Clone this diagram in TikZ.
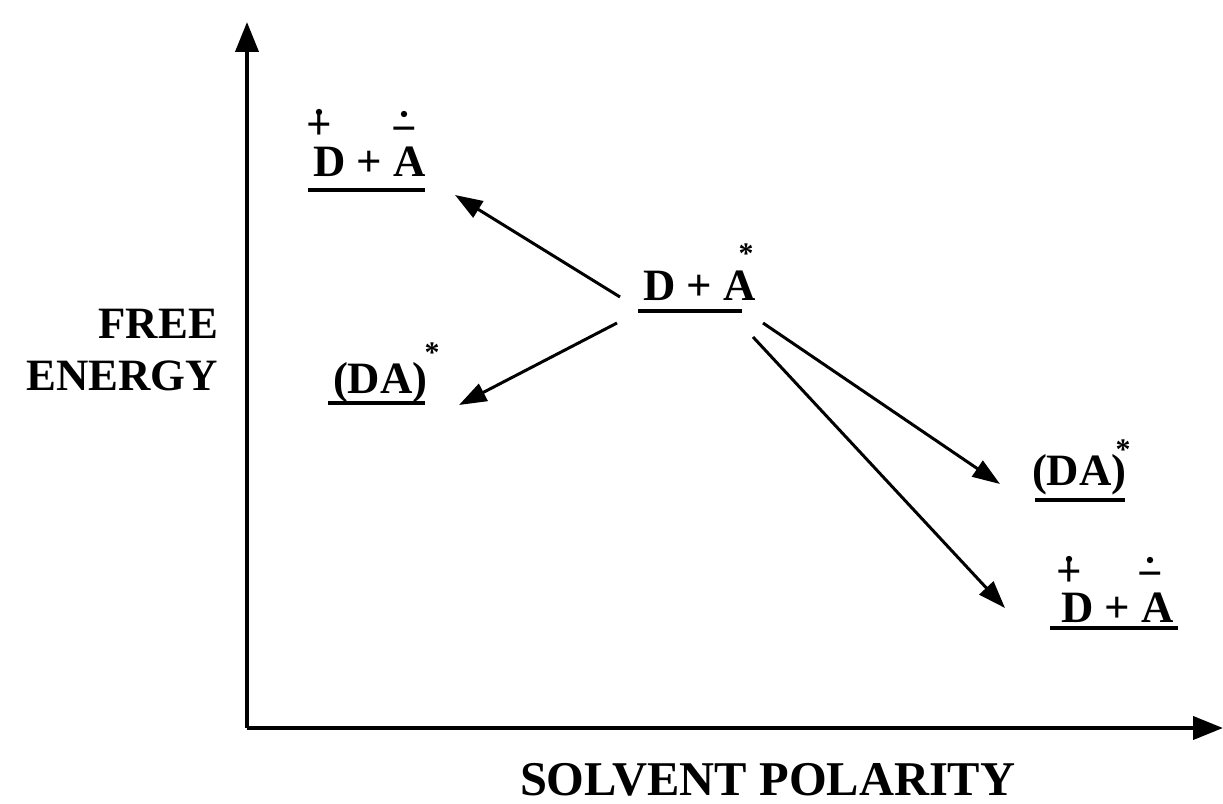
\documentclass[tikz,border=0pt]{standalone}
\usepackage{fontspec}
\setmainfont{Liberation Serif}
\usetikzlibrary{arrows.meta}
\tikzset{
  lbl/.style={inner sep=0pt, outer sep=0pt, font=\fontsize{25.5}{28}\selectfont\bfseries},
  lvl/.style={lbl, anchor=base west},
  chg/.style={lbl, anchor=base},
  starnode/.style={inner sep=0pt, outer sep=0pt, anchor=north, font=\fontsize{17}{18}\selectfont\bfseries},
  uline/.style={line width=2.8pt},
  axis/.style={line width=2.3pt, -{Triangle[length=0.6cm, width=0.46cm]}},
  arr/.style={line width=1.7pt, -{Triangle[length=0.55cm, width=0.38cm]}},
  dotmark/.style={fill=black, draw=none}
}
\begin{document}
\begin{tikzpicture}[x=0.02cm, y=-0.02cm]
\useasboundingbox (0,0) rectangle (1223,804);
% axes
\coordinate (origin) at (247,728);
\coordinate (ytop) at (247,22);
\coordinate (xend) at (1223,728);
\draw[axis] (origin) -- (ytop);
\draw[axis] (origin) -- (xend);
% axis labels
\node[lbl, anchor=base east] (free) at (218,338) {FREE};
\node[lbl, anchor=base east] (energy) at (218,390) {ENERGY};
\node[lbl, anchor=base west, font=\fontsize{27.6}{30}\selectfont\bfseries] (solvent) at (520,795) {SOLVENT POLARITY};
% top-left D+ + A-
\node[lvl] (tl) at (313,177) {D + A};
\draw[uline] (308,190) -- (425,190);
\node[chg] (tlp) at (319,140) {+};
\fill[dotmark] (319,112) circle (3.2);
\node[chg] (tlm) at (404,144) {−};
\fill[dotmark] (404,114) circle (3.2);
% middle D + A*
\node[lvl] (mid) at (643,300) {D + A};
\draw[uline] (638,311) -- (742,311);
\node[starnode] (midstar) at (746,244) {*};
% left (DA)*
\node[lvl] (ldA) at (333,393) {(DA)};
\draw[uline] (328,403) -- (425,403);
\node[starnode] (ldAstar) at (432,343) {*};
% right (DA)*
\node[lvl] (rdA) at (1032,485) {(DA)};
\draw[uline] (1035,500) -- (1125,500);
\node[starnode] (rdAstar) at (1123,440) {*};
% bottom-right D+ + A-
\node[lvl] (br) at (1061,622) {D + A};
\draw[uline] (1050,628) -- (1178,628);
\node[chg] (brp) at (1069,586) {+};
\fill[dotmark] (1069,559) circle (3.2);
\node[chg] (brm) at (1150,588) {−};
\fill[dotmark] (1150,560) circle (3.2);
% arrows
\coordinate (a1s) at (620,297);
\coordinate (a1e) at (455,195);
\coordinate (a2s) at (617,323);
\coordinate (a2e) at (459,405);
\coordinate (a3s) at (763,323);
\coordinate (a3e) at (1000,484);
\coordinate (a4s) at (753,337);
\coordinate (a4e) at (1005,608);
\draw[arr] (a1s) -- (a1e);
\draw[arr] (a2s) -- (a2e);
\draw[arr] (a3s) -- (a3e);
\draw[arr] (a4s) -- (a4e);
\end{tikzpicture}
\end{document}
